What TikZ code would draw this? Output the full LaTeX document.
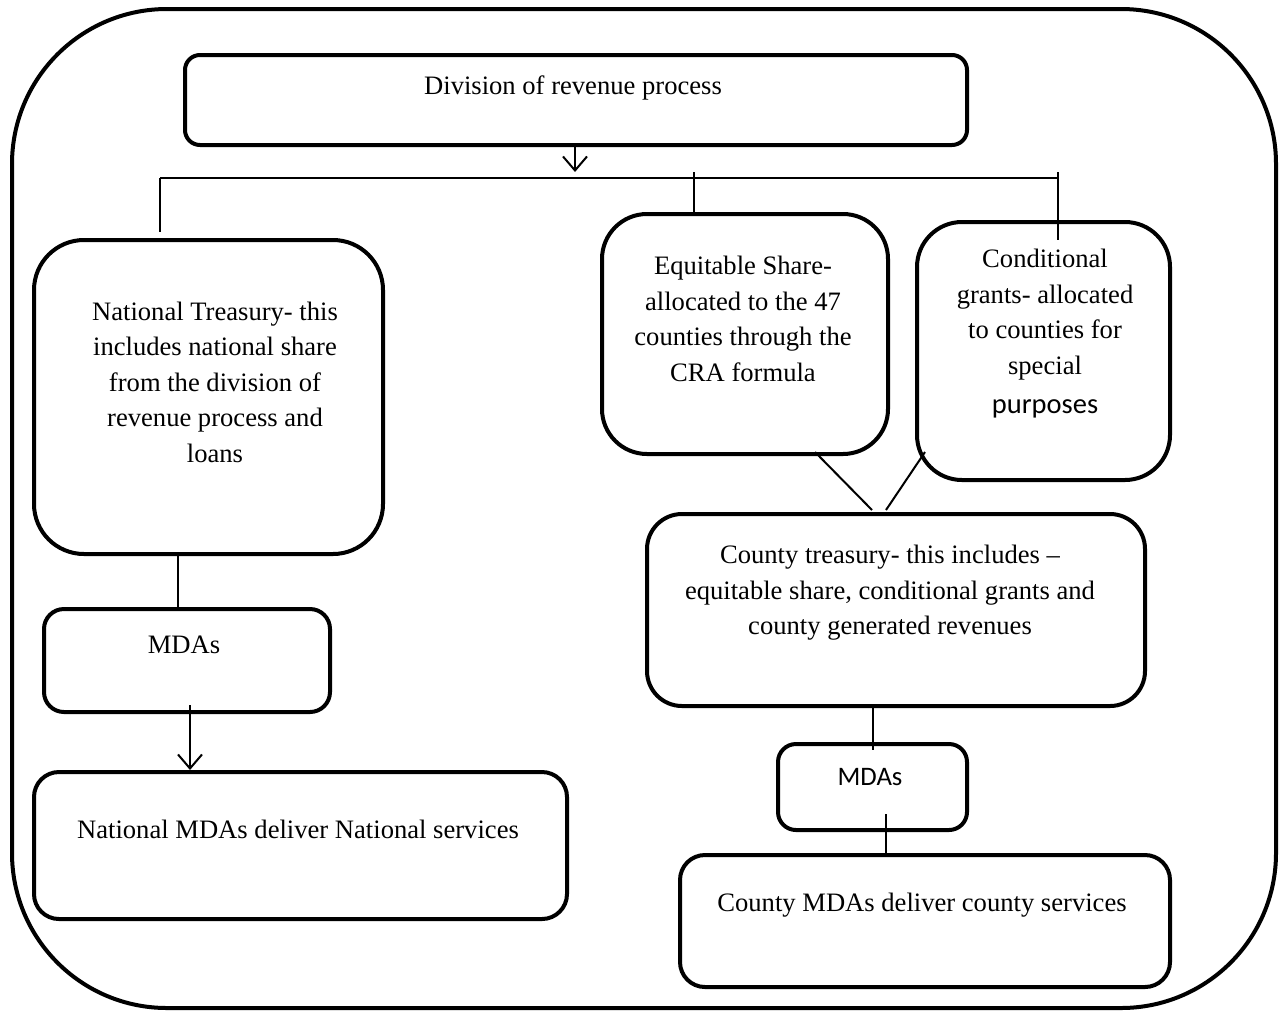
\documentclass[tikz,border=0pt]{standalone}
\usepackage{fontspec}
\setmainfont{Liberation Serif}
\newfontfamily\calibri{Carlito}
\usetikzlibrary{arrows.meta}
\begin{document}
\begin{tikzpicture}[x=1pt,y=-1pt,
 box/.style={draw, line width=4pt, rounded corners=#1, anchor=north west, inner sep=0pt},
 box/.default=20pt,
 conn/.style={line width=2pt},
 arr/.style={conn, -{Straight Barb[length=14pt,width=24pt,line width=2pt]}},
 txt/.style={align=center, font=\fontsize{26.6}{35.5}\selectfont, inner sep=0pt}]
\useasboundingbox (0,0) rectangle (1281,1013);
\draw[line width=4pt, rounded corners=155pt] (12,9) rectangle (1276,1008);

% boxes
\node[box=15pt, minimum width=782pt, minimum height=90pt] (top) at (183,53) {};
\node[box=50pt, minimum width=349pt, minimum height=314pt] (nt) at (32,238) {};
\node[box=45pt, minimum width=286pt, minimum height=240pt] (eq) at (600,212) {};
\node[box=45pt, minimum width=253pt, minimum height=258pt] (cg) at (915,220) {};
\node[box=35pt, minimum width=498pt, minimum height=192pt] (ct) at (645,512) {};
\node[box=20pt, minimum width=286pt, minimum height=103pt] (mdaL) at (42,607) {};
\node[box=25pt, minimum width=533pt, minimum height=147pt] (nm) at (32,770) {};
\node[box=18pt, minimum width=189pt, minimum height=86pt] (mdaR) at (776,742) {};
\node[box=25pt, minimum width=490pt, minimum height=132pt] (cm) at (678,853) {};

% texts
\node[txt] (toptxt) at (573,88) {Division of revenue process};
\node[txt] (nttxt) at (215,382) {National Treasury- this\\includes national share\\from the division of\\revenue process and\\loans};
\node[txt] (eqtxt) at (743,319) {Equitable Share-\\allocated to the 47\\counties through the\\CRA formula};
\node[txt] (cgtxt) at (1045,334) {Conditional\\grants- allocated\\to counties for\\special\\[4pt]{\calibri\fontsize{28.5}{35.5}\selectfont purposes}};
\node[txt] (cttxt) at (890,593) {County treasury- this includes \textendash\\equitable share, conditional grants and\\county generated revenues};
\node[txt] (mdaLtxt) at (184,645) {MDAs};
\node[txt] (nmtxt) at (298,829) {National MDAs deliver National services};
\node[txt, font=\calibri\fontsize{26.7}{30}\selectfont] (mdaRtxt) at (870,777) {MDAs};
\node[txt] (cmtxt) at (922,905) {County MDAs deliver county services};

% connectors
\coordinate (busL) at (160,178);
\coordinate (busR) at (1058,178);
\coordinate (busM) at (575,172);
\coordinate (eqTop) at (694,172);
\coordinate (cgTop) at (1058,172);
\coordinate (cgIn) at (1058,240);
\draw[arr] (top.south -| busM) -- (busM);
\draw[conn] (busL) -- (busR);
\draw[conn] (busL) -- ++(0,54);
\draw[conn] (eqTop) -- (eqTop |- eq.north);
\draw[conn] (cgTop) -- (cgIn);

\coordinate (eqOut) at (815,452);
\coordinate (cgOut) at (925,452);
\coordinate (ctIn1) at (872,510);
\coordinate (ctIn2) at (886,510);
\draw[conn] (eqOut) -- (ctIn1);
\draw[conn] (cgOut) -- (ctIn2);

\coordinate (ntOut) at (178,552);
\draw[conn] (ntOut) -- (ntOut |- mdaL.north);
\coordinate (mdaLOut) at (190,705);
\draw[arr] (mdaLOut) -- (mdaLOut |- nm.north);

\coordinate (ctOut) at (873,704);
\draw[conn] (ctOut) -- (873,750);
\coordinate (mdaROut) at (886,814);
\draw[conn] (mdaROut) -- (mdaROut |- cm.north);
\end{tikzpicture}
\end{document}
